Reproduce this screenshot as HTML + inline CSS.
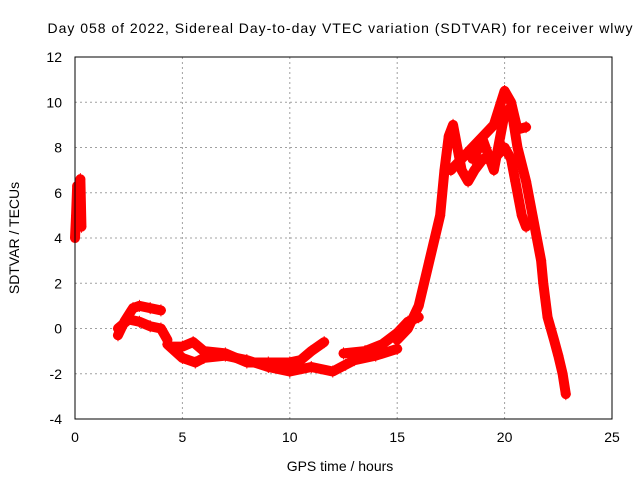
<!DOCTYPE html>
<html><head><meta charset="utf-8"><style>
body{margin:0;background:#fff;}
svg{display:block;font-family:"Liberation Sans",sans-serif;}
</style></head><body>
<svg id="chart" width="640" height="480">
<rect width="640" height="480" fill="#fff"/>
<text x="340" y="33" font-size="14" text-anchor="middle" textLength="585" lengthAdjust="spacing">Day 058 of 2022, Sidereal Day-to-day VTEC variation (SDTVAR) for receiver wlwy</text>
<text x="340" y="471" font-size="14" text-anchor="middle">GPS time / hours</text>
<text transform="translate(19,238) rotate(-90)" font-size="14" text-anchor="middle">SDTVAR / TECUs</text>
<g id="grid"></g><g id="marks"></g>
<rect x="75" y="57" width="537" height="362" fill="none" stroke="#000"/>
</svg>
<script>
const xTicks=[0,5,10,15,20,25];
const yTicks=[-4,-2,0,2,4,6,8,10,12];
const traceEarly=[[0,4],[0.05,5],[0.1,6.3],[0.2,6],[0.25,6.6],[0.3,4.5]];
const traceMorningA=[[2,-0.3],[2.3,0.3],[2.7,0.9],[3,1.0],[3.5,0.9],[4,0.8]];
const traceMorningB=[[2,0],[2.5,0.4],[3,0.3],[3.5,0.1],[4,0],[4.3,-0.5]];
const traceLow=[[4.3,-0.7],[5,-1.3],[5.6,-1.5],[6,-1.3],[7,-1.2],[8,-1.4],[9,-1.7],[10,-1.9],[11,-1.7],[12,-1.9],[12.6,-1.6],[13,-1.4],[14,-1.2],[15,-0.9]];
const traceLow2=[[4.5,-0.8],[5,-0.8],[5.5,-0.6],[6,-1.0],[7,-1.1],[8,-1.5],[9,-1.5],[10,-1.5],[10.5,-1.4],[11,-1.0],[11.6,-0.6]];
const traceLow3=[[12.5,-1.1],[13.5,-1.0],[14.3,-0.7],[15,-0.2],[15.5,0.3],[16,0.5]];
const traceRise=[[15,-0.5],[15.5,0],[16,1],[16.5,3],[17,5],[17.2,7],[17.4,8.5],[17.6,9],[17.8,8],[18,7],[18.3,6.5],[18.6,7],[19,7.5],[19.5,7.5],[20,8],[20.3,7.5],[20.5,6.5],[20.8,5],[21,4.5]];
const tracePeak=[[17.5,7],[18,7.5],[18.5,8],[19,8.5],[19.5,9],[20,10.5],[20.3,10],[20.6,8.8],[21,8.9]];
const traceFall=[[18.5,7.5],[19,8.3],[19.5,7],[20,9.5],[20.3,9.8],[20.6,8],[21,6.5],[21.3,5],[21.5,4],[21.7,3],[21.8,2],[22,0.5],[22.3,-0.5],[22.5,-1.2],[22.7,-2],[22.85,-2.9]];
const traces=[traceEarly,traceMorningA,traceMorningB,traceLow,traceLow2,traceLow3,traceRise,tracePeak,traceFall];
const X=v=>75+v*537/25, Y=v=>419-(v+4)*362/16;
const NS="http://www.w3.org/2000/svg";
const grid=document.getElementById('grid'), marks=document.getElementById('marks'), svg=document.getElementById('chart');
xTicks.forEach(t=>{
 const l=document.createElementNS(NS,'line');
 
 
 l.setAttribute('x1',X(t));l.setAttribute('x2',X(t));l.setAttribute('y1',57);l.setAttribute('y2',419);
 l.setAttribute('stroke','#a0a0a0');l.setAttribute('stroke-dasharray','2,3');grid.appendChild(l);
 const tx=document.createElementNS(NS,'text');
 
 
 tx.setAttribute('x',X(t));tx.setAttribute('y',442);tx.setAttribute('font-size','14');tx.setAttribute('text-anchor','middle');
 tx.textContent=t;svg.appendChild(tx);
});
yTicks.forEach(t=>{
 const l=document.createElementNS(NS,'line');
 
 
 l.setAttribute('x1',75);l.setAttribute('x2',612);l.setAttribute('y1',Y(t));l.setAttribute('y2',Y(t));
 l.setAttribute('stroke','#a0a0a0');l.setAttribute('stroke-dasharray','2,3');grid.appendChild(l);
 const tx=document.createElementNS(NS,'text');
 
 
 tx.setAttribute('x',62);tx.setAttribute('y',Y(t)+5);tx.setAttribute('font-size','14');tx.setAttribute('text-anchor','end');
 tx.textContent=t;svg.appendChild(tx);
});
traces.forEach(tr=>{
 const p=document.createElementNS(NS,'polyline');
 
 
 p.setAttribute('points',tr.map(d=>X(d[0])+','+Y(d[1])).join(' '));
 p.setAttribute('fill','none');p.setAttribute('stroke','#ff0000');p.setAttribute('stroke-width','10');
 p.setAttribute('stroke-linejoin','round');p.setAttribute('stroke-linecap','round');
 marks.appendChild(p);
 tr.forEach(d=>{
  const m=document.createElementNS(NS,'path');
  
  
  const x=X(d[0]),y=Y(d[1]);
  m.setAttribute('d',`M${x-5},${y}H${x+5}M${x},${y-6}V${y+6}`);
  m.setAttribute('stroke','#ff0000');m.setAttribute('stroke-width','1');
  marks.appendChild(m);
 });
});
</script>
</body></html>
